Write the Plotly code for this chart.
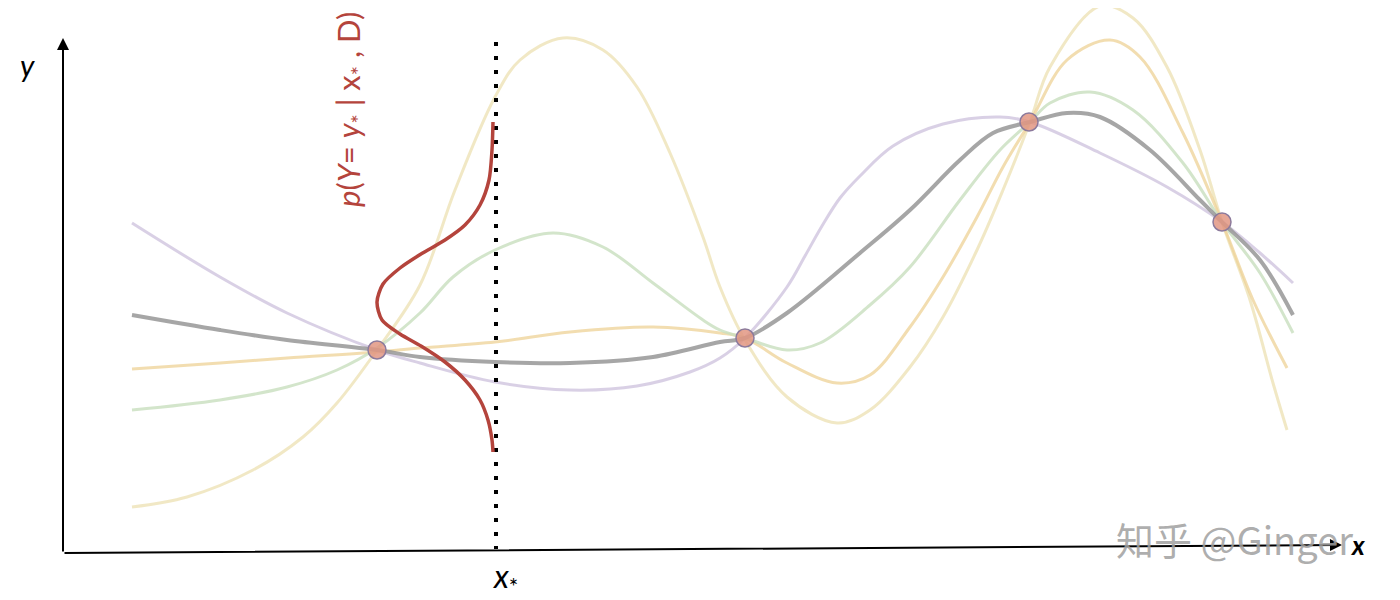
import plotly.graph_objects as go

# sample functions drawn from a GP (image units)
mean_x = [132, 220, 287, 377, 420, 495, 570, 653, 720, 745, 787, 860, 910, 960, 993, 1030, 1067, 1100, 1150, 1200, 1222, 1260, 1293]
mean_y = [315, 330, 340, 350, 357, 362, 363, 357, 342, 338, 313, 253, 210, 160, 133, 122, 113, 117, 150, 200, 222, 260, 315]

purple_x = [132, 220, 287, 377, 420, 495, 570, 637, 690, 720, 745, 787, 805, 822, 840, 860, 893, 943, 1000, 1030, 1100, 1167, 1222, 1260, 1293]
purple_y = [223, 277, 313, 350, 363, 382, 390, 386, 372, 358, 338, 287, 256, 226, 198, 176, 146, 124, 117, 122, 153, 187, 222, 253, 283]

green_x = [132, 220, 287, 337, 377, 420, 453, 495, 553, 603, 653, 703, 720, 745, 787, 820, 870, 910, 960, 1000, 1030, 1050, 1090, 1133, 1183, 1222, 1260, 1293]
green_y = [410, 400, 387, 370, 348, 313, 277, 250, 233, 247, 283, 320, 330, 338, 350, 343, 305, 267, 200, 150, 122, 103, 92, 110, 163, 222, 273, 333]

orange_x = [132, 220, 287, 377, 420, 495, 570, 653, 720, 745, 787, 837, 870, 910, 943, 977, 1003, 1030, 1067, 1110, 1140, 1183, 1222, 1253, 1287]
orange_y = [369, 363, 358, 352, 348, 342, 332, 327, 333, 338, 363, 383, 375, 327, 277, 217, 167, 122, 60, 40, 57, 133, 222, 300, 368]

yellow_x = [132, 187, 253, 303, 337, 377, 420, 455, 495, 520, 563, 603, 637, 670, 703, 720, 745, 787, 837, 870, 910, 943, 977, 1003, 1030, 1050, 1100, 1133, 1167, 1200, 1222, 1250, 1273, 1287]
yellow_y = [507, 497, 470, 437, 403, 350, 285, 190, 97, 60, 38, 50, 87, 153, 237, 287, 340, 397, 423, 410, 367, 317, 250, 190, 122, 67, 6, 18, 67, 150, 222, 300, 383, 430]

# predictive density at x*
dens_x = [493, 492, 489, 480, 465, 445, 421, 400, 383, 377, 382, 400, 421, 445, 465, 480, 488, 492, 493]
dens_y = [122, 150, 180, 205, 225, 240, 254, 268, 284, 302, 320, 334, 346, 362, 380, 400, 420, 440, 452]

# observations D
obs_x = [377, 745, 1029, 1222]
obs_y = [350, 338, 122, 222]

x_star = 496

fig = go.Figure()

samples = [
    (yellow_x, yellow_y, 'rgba(236,224,178,0.75)', 3),
    (orange_x, orange_y, 'rgba(238,210,150,0.75)', 3),
    (green_x, green_y, 'rgba(200,222,190,0.8)', 3),
    (purple_x, purple_y, 'rgba(210,200,225,0.85)', 3),
    (mean_x, mean_y, 'rgba(150,150,150,0.85)', 4),
]
for xs, ys, c, w in samples:
    fig.add_trace(go.Scatter(x=xs, y=ys, mode='lines', line=dict(color=c, width=w, shape='spline', smoothing=1.0),
                             hoverinfo='skip', showlegend=False))

fig.add_trace(go.Scatter(x=[x_star, x_star], y=[42, 549], mode='lines',
                         line=dict(color='black', width=4, dash='4px,10px'), showlegend=False))

fig.add_trace(go.Scatter(x=dens_x, y=dens_y, mode='lines',
                         line=dict(color='#b4443c', width=3.5, shape='spline', smoothing=0.8), showlegend=False))

fig.add_trace(go.Scatter(x=obs_x, y=obs_y, mode='markers',
                         marker=dict(size=18, color='rgba(226,150,130,0.85)', line=dict(color='#8c7a9c', width=1.5)),
                         showlegend=False))

# axes arrows
fig.add_annotation(x=63, y=38, ax=63, ay=553, xref='x', yref='y', axref='x', ayref='y', text='',
                   showarrow=True, arrowhead=2, arrowsize=1.2, arrowwidth=2, arrowcolor='black')
fig.add_annotation(x=1342, y=545, ax=63, ay=553, xref='x', yref='y', axref='x', ayref='y', text='',
                   showarrow=True, arrowhead=2, arrowsize=1.2, arrowwidth=2, arrowcolor='black')

lbl = dict(family='Lato, Open Sans, sans-serif', color='black')
fig.add_annotation(x=27, y=65, text='<i>y</i>', showarrow=False, font=dict(size=30, **lbl))
fig.add_annotation(x=1357, y=545, text='<i><b>x</b></i>', showarrow=False, font=dict(size=26, **lbl))
fig.add_annotation(x=505, y=578, text='<i>x</i><sub>*</sub>', showarrow=False, font=dict(size=32, **lbl))

fig.add_annotation(x=350, y=110, text='<i>p</i>(<i>Y</i>= <i>y</i><sub>*</sub> | x<sub>*</sub> , D)', textangle=-90,
                   showarrow=False, font=dict(size=31, family='Lato, Open Sans, sans-serif', color='#b4443c'))

# watermark
fig.add_annotation(x=1234, y=538, text='知乎 @Ginger', showarrow=False,
                   font=dict(size=38, family='Noto Sans CJK SC, sans-serif', color='rgba(160,160,160,0.85)'))

# page body has an 8px margin, so shift the ranges to keep image units == page pixels
fig.update_layout(
    width=1400, height=600,
    margin=dict(l=0, r=0, t=0, b=0),
    paper_bgcolor='white', plot_bgcolor='white',
    xaxis=dict(range=[8, 1408], visible=False),
    yaxis=dict(range=[608, 8], visible=False),
    showlegend=False,
)

fig.write_html("out.html")
